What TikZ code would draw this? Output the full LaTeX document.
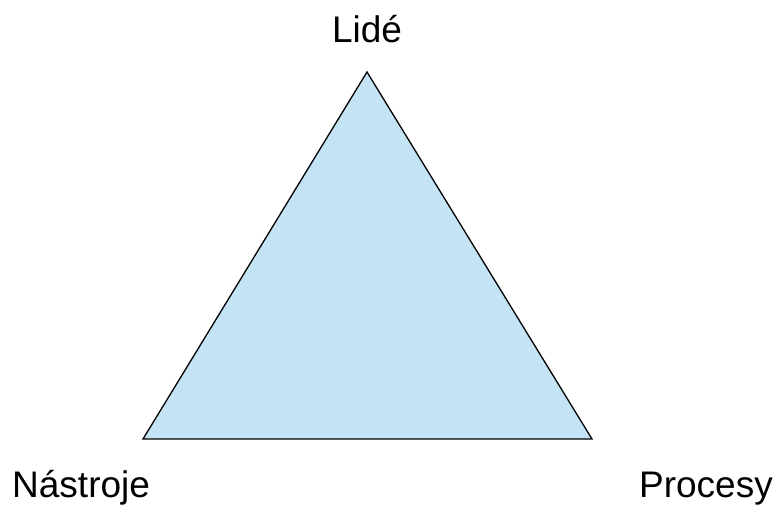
\documentclass[tikz,border=0pt]{standalone}
\usepackage{fontspec}
\setmainfont{Liberation Sans}
\definecolor{tri}{RGB}{196,228,245}
\begin{document}
\begin{tikzpicture}[x=1pt,y=1pt,
  lbl/.style={font=\fontsize{37}{44}\selectfont, inner sep=0pt}]
\useasboundingbox (0,0) rectangle (777,504);
\coordinate (top) at (367,432);
\coordinate (bl) at (143,65);
\coordinate (br) at (592,65);
\filldraw[fill=tri, draw=black, line width=1.3pt, line join=miter] (top) -- (bl) -- (br) -- cycle;
\node[lbl, anchor=base] (lide) at (367,461) {Lidé};
\node[lbl, anchor=base west] (nastroje) at (12,7) {Nástroje};
\node[lbl, anchor=base east] (procesy) at (773,7) {Procesy};
\end{tikzpicture}
\end{document}
